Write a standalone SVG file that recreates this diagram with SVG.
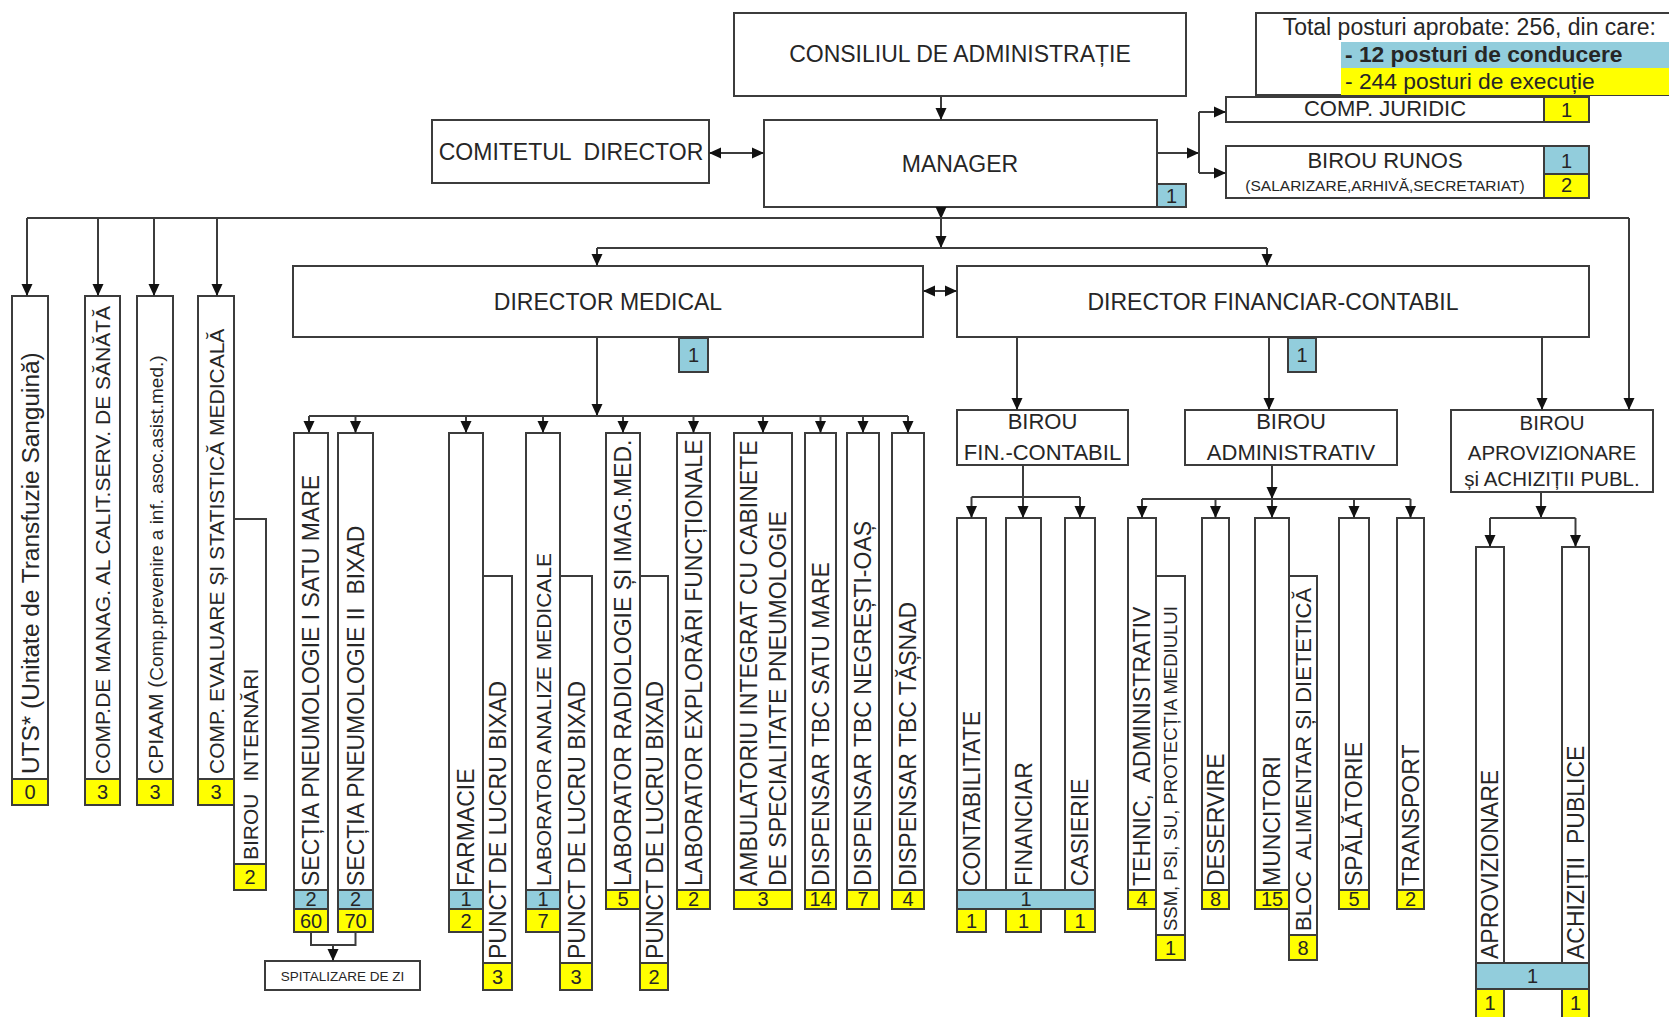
<svg xmlns="http://www.w3.org/2000/svg" width="1669" height="1017" viewBox="0 0 1669 1017">
<defs>
<style>
.b{fill:#fff;stroke:#3c3c3c;stroke-width:2}
.bl{fill:#92cddc;stroke:#3c3c3c;stroke-width:2}
.ye{fill:#ffff00;stroke:#3c3c3c;stroke-width:2}
.ln{fill:none;stroke:#3c3c3c;stroke-width:2}
.ar{fill:none;stroke:#3c3c3c;stroke-width:2;marker-end:url(#ah)}
.da{fill:none;stroke:#3c3c3c;stroke-width:2;marker-start:url(#ah);marker-end:url(#ah)}
text{font-family:"Liberation Sans",Arial,sans-serif;fill:#262626}
.c{text-anchor:middle}
.f23{font-size:23px}
.f22{font-size:22px}
.f21{font-size:21px}
.n{font-size:20px;text-anchor:middle}
.pre{white-space:pre}
</style>
<marker id="ah" viewBox="0 0 12 12" refX="12" refY="6" markerWidth="12" markerHeight="12" markerUnits="userSpaceOnUse" orient="auto-start-reverse"><path d="M0,0.5 L12,6 L0,11.5 z" fill="#111"/></marker>
</defs>
<rect width="1669" height="1017" fill="#fff"/>

<g id="total">
<rect class="b" x="1256" y="13" width="430" height="82"/>
<rect x="1341" y="42" width="340" height="26" fill="#92cddc"/>
<rect x="1341" y="68" width="340" height="27" fill="#ffff00"/>
<text x="1656" y="35" style="font-size:23px;text-anchor:end">Total posturi aprobate: 256, din care:</text>
<text x="1345" y="62" style="font-size:22.8px;font-weight:bold">- 12 posturi de conducere</text>
<text x="1345" y="89" style="font-size:22.8px">- 244 posturi de execuție</text>
</g>

<g id="consiliul">
<rect class="b" x="734" y="13" width="452" height="83"/>
<text class="f23 c" x="960" y="62">CONSILIUL DE ADMINISTRAȚIE</text>
</g>

<g id="manager">
<rect class="b" x="764" y="120" width="393" height="87"/>
<text class="f23 c" x="960" y="172">MANAGER</text>
<rect class="bl" x="1157" y="184" width="29" height="23"/>
<text class="n" x="1171.5" y="203">1</text>
</g>

<g id="comitetul">
<rect class="b" x="432" y="120" width="277" height="63"/>
<text class="f23 c pre" x="571" y="160">COMITETUL  DIRECTOR</text>
</g>

<g id="comp-juridic">
<rect class="b" x="1226" y="97" width="318" height="25"/>
<rect class="ye" x="1544" y="97" width="45" height="25"/>
<text class="f22 c" x="1385" y="116">COMP. JURIDIC</text>
<text class="n" x="1566.5" y="117">1</text>
</g>

<g id="birou-runos">
<rect class="b" x="1226" y="146" width="318" height="52"/>
<rect class="bl" x="1544" y="146" width="45" height="28"/>
<rect class="ye" x="1544" y="174" width="45" height="24"/>
<text class="f22 c" x="1385" y="168">BIROU RUNOS</text>
<text class="c" x="1385" y="191" style="font-size:15.5px">(SALARIZARE,ARHIVĂ,SECRETARIAT)</text>
<text class="n" x="1566.5" y="168">1</text>
<text class="n" x="1566.5" y="192">2</text>
</g>

<g id="director-medical">
<rect class="b" x="293" y="266" width="630" height="71"/>
<text class="f23 c" x="608" y="310">DIRECTOR MEDICAL</text>
<rect class="bl" x="679" y="338" width="29" height="34"/>
<text class="n" x="693.5" y="362">1</text>
</g>

<g id="director-financiar">
<rect class="b" x="957" y="266" width="632" height="71"/>
<text class="f23 c" x="1273" y="310">DIRECTOR FINANCIAR-CONTABIL</text>
<rect class="bl" x="1288" y="338" width="28" height="34"/>
<text class="n" x="1302" y="362">1</text>
</g>

<!-- left column -->
<g id="uts">
<rect class="b" x="12" y="296" width="36" height="483"/>
<rect class="ye" x="12" y="779" width="36" height="26"/>
<text transform="translate(38.5,774) rotate(-90)" style="font-size:24.4px">UTS* (Unitate de Transfuzie Sanguină)</text>
<text class="n" x="30" y="799">0</text>
</g>
<g id="comp-manag">
<rect class="b" x="85" y="296" width="35" height="483"/>
<rect class="ye" x="85" y="779" width="35" height="26"/>
<text class="f21" transform="translate(110,774) rotate(-90)">COMP.DE MANAG. AL CALIT.SERV. DE SĂNĂTĂ</text>
<text class="n" x="102.5" y="799">3</text>
</g>
<g id="cpiaam">
<rect class="b" x="137" y="296" width="36" height="483"/>
<rect class="ye" x="137" y="779" width="36" height="26"/>
<text transform="translate(162.5,774) rotate(-90)"><tspan style="font-size:21px">CPIAAM (</tspan><tspan style="font-size:19px">Comp.prevenire a inf. asoc.asist.med.)</tspan></text>
<text class="n" x="155" y="799">3</text>
</g>
<g id="comp-evaluare">
<rect class="b" x="198" y="296" width="36" height="483"/>
<rect class="ye" x="198" y="779" width="36" height="26"/>
<text class="f21" transform="translate(223.5,774) rotate(-90)">COMP. EVALUARE ȘI STATISTICĂ MEDICALĂ</text>
<text class="n" x="216" y="799">3</text>
</g>
<g id="birou-internari">
<rect class="b" x="234" y="519" width="32" height="345"/>
<rect class="ye" x="234" y="864" width="32" height="26"/>
<text class="f21 pre" transform="translate(257.5,860) rotate(-90)">BIROU  INTERNĂRI</text>
<text class="n" x="250" y="884">2</text>
</g>

<!-- medical -->
<g id="sectia-1">
<rect class="b" x="294" y="433" width="34" height="457"/>
<rect class="bl" x="294" y="890" width="34" height="19"/>
<rect class="ye" x="294" y="909" width="34" height="23"/>
<text class="f23" transform="translate(319,886) rotate(-90)">SECȚIA PNEUMOLOGIE I SATU MARE</text>
<text class="n" x="311" y="906">2</text>
<text class="n" x="311" y="928">60</text>
</g>
<g id="sectia-2">
<rect class="b" x="338" y="433" width="35" height="457"/>
<rect class="bl" x="338" y="890" width="35" height="19"/>
<rect class="ye" x="338" y="909" width="35" height="23"/>
<text class="f23 pre" transform="translate(364,886) rotate(-90)">SECȚIA PNEUMOLOGIE II  BIXAD</text>
<text class="n" x="355.5" y="906">2</text>
<text class="n" x="355.5" y="928">70</text>
</g>
<g id="spitalizare">
<rect class="b" x="265" y="961" width="155" height="29"/>
<text class="c" x="342.5" y="981" style="font-size:13.5px">SPITALIZARE DE ZI</text>
</g>
<g id="farmacie">
<rect class="b" x="449" y="433" width="34" height="457"/>
<rect class="bl" x="449" y="890" width="34" height="19"/>
<rect class="ye" x="449" y="909" width="34" height="23"/>
<text class="f23" transform="translate(474,886) rotate(-90)">FARMACIE</text>
<text class="n" x="466" y="906">1</text>
<text class="n" x="466" y="928">2</text>
</g>
<g id="punct-1">
<rect class="b" x="483" y="576" width="29" height="387"/>
<rect class="ye" x="483" y="963" width="29" height="27"/>
<text class="f23" transform="translate(506,959) rotate(-90)">PUNCT DE LUCRU BIXAD</text>
<text class="n" x="497.5" y="984">3</text>
</g>
<g id="lab-analize">
<rect class="b" x="526" y="433" width="34" height="457"/>
<rect class="bl" x="526" y="890" width="34" height="19"/>
<rect class="ye" x="526" y="909" width="34" height="23"/>
<text class="f21" transform="translate(551,886) rotate(-90)">LABORATOR ANALIZE MEDICALE</text>
<text class="n" x="543" y="906">1</text>
<text class="n" x="543" y="928">7</text>
</g>
<g id="punct-2">
<rect class="b" x="560" y="576" width="32" height="387"/>
<rect class="ye" x="560" y="963" width="32" height="27"/>
<text class="f23" transform="translate(584.5,959) rotate(-90)">PUNCT DE LUCRU BIXAD</text>
<text class="n" x="576" y="984">3</text>
</g>
<g id="lab-radiologie">
<rect class="b" x="606" y="433" width="34" height="457"/>
<rect class="ye" x="606" y="890" width="34" height="19"/>
<text class="f23" transform="translate(631,886) rotate(-90)">LABORATOR RADIOLOGIE ȘI IMAG.MED.</text>
<text class="n" x="623" y="906">5</text>
</g>
<g id="punct-3">
<rect class="b" x="640" y="576" width="28" height="387"/>
<rect class="ye" x="640" y="963" width="28" height="27"/>
<text class="f23" transform="translate(662.5,959) rotate(-90)">PUNCT DE LUCRU BIXAD</text>
<text class="n" x="654" y="984">2</text>
</g>
<g id="lab-explorari">
<rect class="b" x="677" y="433" width="33" height="457"/>
<rect class="ye" x="677" y="890" width="33" height="19"/>
<text class="f23" transform="translate(701.5,886) rotate(-90)">LABORATOR EXPLORĂRI FUNCȚIONALE</text>
<text class="n" x="693.5" y="906">2</text>
</g>
<g id="ambulatoriu">
<rect class="b" x="734" y="433" width="58" height="457"/>
<rect class="ye" x="734" y="890" width="58" height="19"/>
<text class="f23" transform="translate(757,886) rotate(-90)">AMBULATORIU INTEGRAT CU CABINETE</text>
<text class="f23" transform="translate(786,886) rotate(-90)">DE SPECIALITATE PNEUMOLOGIE</text>
<text class="n" x="763" y="906">3</text>
</g>
<g id="dispensar-satu-mare">
<rect class="b" x="805" y="433" width="31" height="457"/>
<rect class="ye" x="805" y="890" width="31" height="19"/>
<text class="f23" transform="translate(829,886) rotate(-90)">DISPENSAR TBC SATU MARE</text>
<text class="n" x="820.5" y="906">14</text>
</g>
<g id="dispensar-negresti">
<rect class="b" x="847" y="433" width="32" height="457"/>
<rect class="ye" x="847" y="890" width="32" height="19"/>
<text class="f23" transform="translate(871,886) rotate(-90)">DISPENSAR TBC NEGREȘTI-OAȘ</text>
<text class="n" x="863" y="906">7</text>
</g>
<g id="dispensar-tasnad">
<rect class="b" x="892" y="433" width="32" height="457"/>
<rect class="ye" x="892" y="890" width="32" height="19"/>
<text class="f23" transform="translate(916,886) rotate(-90)">DISPENSAR TBC TĂȘNAD</text>
<text class="n" x="908" y="906">4</text>
</g>

<!-- financiar -->
<g id="birou-fin">
<rect class="b" x="957" y="410" width="171" height="55"/>
<text class="f22 c" x="1042.5" y="429">BIROU</text>
<text class="f22 c" x="1042.5" y="460">FIN.-CONTABIL</text>
</g>
<g id="fin-subunits">
<rect class="b" x="957" y="518" width="29" height="372"/>
<rect class="b" x="1006" y="518" width="35" height="372"/>
<rect class="b" x="1065" y="518" width="30" height="372"/>
<rect class="bl" x="957" y="890" width="138" height="19"/>
<rect class="ye" x="957" y="909" width="29" height="23"/>
<rect class="ye" x="1006" y="909" width="35" height="23"/>
<rect class="ye" x="1065" y="909" width="30" height="23"/>
<text class="f23" transform="translate(980,886) rotate(-90)">CONTABILITATE</text>
<text class="f23" transform="translate(1032,886) rotate(-90)">FINANCIAR</text>
<text class="f23" transform="translate(1088,886) rotate(-90)">CASIERIE</text>
<text class="n" x="1026" y="906">1</text>
<text class="n" x="971.5" y="928">1</text>
<text class="n" x="1023.5" y="928">1</text>
<text class="n" x="1080" y="928">1</text>
</g>

<g id="birou-admin">
<rect class="b" x="1185" y="410" width="212" height="55"/>
<text class="f22 c" x="1291" y="429">BIROU</text>
<text class="f22 c" x="1291" y="460">ADMINISTRATIV</text>
</g>
<g id="tehnic">
<rect class="b" x="1128" y="518" width="28" height="372"/>
<rect class="ye" x="1128" y="890" width="28" height="19"/>
<text class="f23 pre" transform="translate(1150,886) rotate(-90)">TEHNIC,  ADMINISTRATIV</text>
<text class="n" x="1142" y="906">4</text>
</g>
<g id="ssm">
<rect class="b" x="1156" y="576" width="29" height="359"/>
<rect class="ye" x="1156" y="935" width="29" height="25"/>
<text transform="translate(1177,931) rotate(-90)" style="font-size:18.5px">SSM, PSI, SU, PROTECȚIA MEDIULUI</text>
<text class="n" x="1170.5" y="955">1</text>
</g>
<g id="deservire">
<rect class="b" x="1202" y="518" width="27" height="372"/>
<rect class="ye" x="1202" y="890" width="27" height="19"/>
<text class="f23" transform="translate(1223.5,886) rotate(-90)">DESERVIRE</text>
<text class="n" x="1215.5" y="906">8</text>
</g>
<g id="muncitori">
<rect class="b" x="1255" y="518" width="34" height="372"/>
<rect class="ye" x="1255" y="890" width="34" height="19"/>
<text class="f23" transform="translate(1280,886) rotate(-90)">MUNCITORI</text>
<text class="n" x="1272" y="906">15</text>
</g>
<g id="bloc-alimentar">
<rect class="b" x="1289" y="576" width="28" height="359"/>
<rect class="ye" x="1289" y="935" width="28" height="25"/>
<text class="pre" transform="translate(1311,931) rotate(-90)" style="font-size:22px">BLOC  ALIMENTAR ȘI DIETETICĂ</text>
<text class="n" x="1303" y="955">8</text>
</g>
<g id="spalatorie">
<rect class="b" x="1339" y="518" width="30" height="372"/>
<rect class="ye" x="1339" y="890" width="30" height="19"/>
<text class="f23" transform="translate(1362,886) rotate(-90)">SPĂLĂTORIE</text>
<text class="n" x="1354" y="906">5</text>
</g>
<g id="transport">
<rect class="b" x="1397" y="518" width="27" height="372"/>
<rect class="ye" x="1397" y="890" width="27" height="19"/>
<text class="f23" transform="translate(1418.5,886) rotate(-90)">TRANSPORT</text>
<text class="n" x="1410.5" y="906">2</text>
</g>

<g id="birou-aprov">
<rect class="b" x="1451" y="410" width="202" height="82"/>
<text class="c" x="1552" y="430" style="font-size:20.5px">BIROU</text>
<text class="c" x="1552" y="460" style="font-size:20.5px">APROVIZIONARE</text>
<text class="c" x="1552" y="486" style="font-size:20.5px">și ACHIZIȚII PUBL.</text>
</g>
<g id="aprov-subunits">
<rect class="b" x="1476" y="547" width="28" height="416"/>
<rect class="b" x="1562" y="547" width="27" height="416"/>
<rect class="bl" x="1476" y="963" width="113" height="26"/>
<rect class="ye" x="1476" y="989" width="28" height="30"/>
<rect class="ye" x="1562" y="989" width="27" height="30"/>
<text class="f23" transform="translate(1498,959) rotate(-90)">APROVIZIONARE</text>
<text class="f23 pre" transform="translate(1583.5,959) rotate(-90)">ACHIZIȚII  PUBLICE</text>
<text class="n" x="1532.5" y="983">1</text>
<text class="n" x="1490" y="1010">1</text>
<text class="n" x="1575.5" y="1010">1</text>
</g>

<g id="connectors">
<path class="ar" d="M941,96 V120"/>
<path class="da" d="M709,153 H764"/>
<path class="ar" d="M941,207 V219"/>
<path class="ln" d="M27,218 H1629"/>
<path class="ar" d="M27,218 V296"/>
<path class="ar" d="M98,218 V296"/>
<path class="ar" d="M154,218 V296"/>
<path class="ar" d="M217,218 V296"/>
<path class="ar" d="M1629,218 V410"/>
<path class="ar" d="M941,218 V248"/>
<path class="ln" d="M597,248 H1267"/>
<path class="ar" d="M597,248 V266"/>
<path class="ar" d="M1267,248 V266"/>
<path class="da" d="M923,291 H957"/>
<path class="ar" d="M1157,153 H1199"/>
<path class="ln" d="M1199,112 V173"/>
<path class="ar" d="M1199,112 H1226"/>
<path class="ar" d="M1199,173 H1226"/>
<path class="ar" d="M597,337 V416"/>
<path class="ln" d="M309,416 H908"/>
<path class="ar" d="M309,416 V433"/>
<path class="ar" d="M355.5,416 V433"/>
<path class="ar" d="M466,416 V433"/>
<path class="ar" d="M543,416 V433"/>
<path class="ar" d="M623,416 V433"/>
<path class="ar" d="M693.5,416 V433"/>
<path class="ar" d="M763,416 V433"/>
<path class="ar" d="M820.5,416 V433"/>
<path class="ar" d="M863,416 V433"/>
<path class="ar" d="M908,416 V433"/>
<path class="ln" d="M311,932 V945 H355.5 V932"/>
<path class="ar" d="M333,945 V961"/>
<path class="ar" d="M1017,337 V410"/>
<path class="ar" d="M1269,337 V410"/>
<path class="ar" d="M1542,337 V410"/>
<path class="ar" d="M1023,465 V518"/>
<path class="ln" d="M971.5,497 H1080"/>
<path class="ar" d="M971.5,497 V518"/>
<path class="ar" d="M1080,497 V518"/>
<path class="ar" d="M1272,465 V499"/>
<path class="ar" d="M1272,499 V518"/>
<path class="ln" d="M1142,499 H1410.5"/>
<path class="ar" d="M1142,499 V518"/>
<path class="ar" d="M1215.5,499 V518"/>
<path class="ar" d="M1354,499 V518"/>
<path class="ar" d="M1410.5,499 V518"/>
<path class="ar" d="M1541,492 V518"/>
<path class="ln" d="M1490,518 H1575.5"/>
<path class="ar" d="M1490,518 V547"/>
<path class="ar" d="M1575.5,518 V547"/>
<path class="ln" d="M1156,576 H1185 M234,519 H266 M483,576 H512"/>
</g>
</svg>
